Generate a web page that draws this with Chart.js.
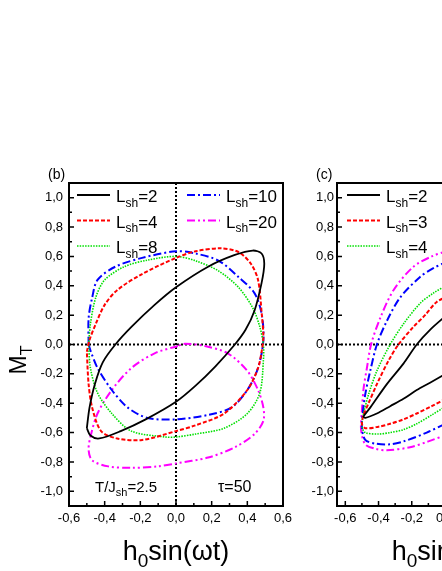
<!DOCTYPE html>
<html>
<head>
<meta charset="utf-8">
<script src="https://cdn.jsdelivr.net/npm/chart.js@4.4.0/dist/chart.umd.min.js"></script>
<style>
    html, body { margin: 0; padding: 0; overflow: hidden; background: #fff; }
    #wrap { position: relative; width: 442px; height: 571px; overflow: hidden; }
    canvas { position: absolute; top: 0; }
    #chart_b { left: 0; }
    #chart_c { left: 290px; }
</style>
</head>
<body>
<div id="wrap">
    <canvas id="chart_b" width="300" height="571"></canvas>
    <canvas id="chart_c" width="300" height="571"></canvas>
</div>
<script>
// оси
const xTicks = [-0.6, -0.4, -0.2, 0, 0.2, 0.4, 0.6];
const xMinor = [-0.5, -0.3, -0.1, 0.1, 0.3, 0.5];
const yTicks = [-1, -0.8, -0.6, -0.4, -0.2, 0, 0.2, 0.4, 0.6, 0.8, 1];
const yMinor = [-0.9, -0.7, -0.5, -0.3, -0.1, 0.1, 0.3, 0.5, 0.7, 0.9];

// панель (b), T/Jsh=2.5, tau=50 : петли [h, M]
const b_L2 = [[-0.50, -0.57], [-0.485, -0.43], [-0.455, -0.27], [-0.41, -0.12], [-0.34, 0.0], [-0.25, 0.12], [-0.12, 0.27], [0, 0.39], [0.18, 0.53], [0.33, 0.61], [0.43, 0.64], [0.48, 0.62], [0.495, 0.55], [0.48, 0.42], [0.44, 0.23], [0.39, 0.10], [0.33, 0.0], [0.22, -0.15], [0.11, -0.28], [0, -0.39], [-0.17, -0.51], [-0.31, -0.59], [-0.43, -0.64], [-0.48, -0.62], [-0.50, -0.57]];
const b_L4 = [[-0.50, -0.05], [-0.485, 0.03], [-0.45, 0.14], [-0.40, 0.27], [-0.33, 0.37], [-0.19, 0.48], [0, 0.59], [0.11, 0.635], [0.25, 0.655], [0.35, 0.63], [0.42, 0.55], [0.46, 0.44], [0.48, 0.22], [0.49, 0.05], [0.48, -0.05], [0.46, -0.16], [0.40, -0.31], [0.27, -0.47], [0.11, -0.55], [0, -0.59], [-0.19, -0.65], [-0.33, -0.64], [-0.42, -0.59], [-0.47, -0.43], [-0.49, -0.27], [-0.50, -0.05]];
const b_L8 = [[-0.49, 0.0], [-0.48, 0.14], [-0.45, 0.32], [-0.40, 0.44], [-0.29, 0.53], [-0.16, 0.575], [0, 0.60], [0.11, 0.57], [0.24, 0.50], [0.35, 0.39], [0.43, 0.25], [0.47, 0.12], [0.49, 0.0], [0.49, -0.11], [0.47, -0.33], [0.40, -0.47], [0.27, -0.57], [0.11, -0.61], [0, -0.63], [-0.06, -0.63], [-0.25, -0.59], [-0.36, -0.47], [-0.44, -0.33], [-0.48, -0.16], [-0.49, 0.0]];
const b_L10 = [[-0.49, 0.0], [-0.49, 0.18], [-0.47, 0.32], [-0.44, 0.44], [-0.34, 0.53], [-0.19, 0.59], [0, 0.635], [0.11, 0.62], [0.24, 0.57], [0.35, 0.46], [0.44, 0.35], [0.48, 0.21], [0.49, 0.03], [0.46, -0.16], [0.40, -0.31], [0.31, -0.43], [0.18, -0.48], [0, -0.51], [-0.16, -0.50], [-0.27, -0.43], [-0.36, -0.31], [-0.44, -0.16], [-0.48, -0.04], [-0.49, 0.0]];
const b_L20 = [[0.01, -0.01], [-0.12, -0.06], [-0.25, -0.16], [-0.36, -0.31], [-0.44, -0.47], [-0.48, -0.63], [-0.49, -0.72], [-0.47, -0.79], [-0.38, -0.83], [-0.25, -0.84], [-0.10, -0.83], [0.0, -0.81], [0.18, -0.77], [0.33, -0.70], [0.44, -0.61], [0.49, -0.52], [0.49, -0.43], [0.46, -0.31], [0.40, -0.18], [0.29, -0.06], [0.16, -0.01], [0.05, 0.005], [0.01, -0.01]];

// панель (c) : видна только левая часть петель
const c_L2 = [[0.02, 0.21], [-0.09, 0.10], [-0.17, 0.0], [-0.25, -0.13], [-0.35, -0.27], [-0.45, -0.43], [-0.49, -0.49], [-0.48, -0.50], [-0.41, -0.47], [-0.33, -0.42], [-0.25, -0.37], [-0.17, -0.31], [-0.09, -0.26], [0.02, -0.19]];
const c_L3 = [[0.02, 0.33], [-0.05, 0.29], [-0.12, 0.20], [-0.19, 0.12], [-0.28, 0.0], [-0.34, -0.11], [-0.41, -0.27], [-0.46, -0.40], [-0.49, -0.48], [-0.50, -0.54], [-0.48, -0.57], [-0.40, -0.56], [-0.33, -0.54], [-0.25, -0.51], [-0.17, -0.47], [-0.08, -0.42], [0.02, -0.36]];
const c_L4 = [[0.02, 0.41], [-0.07, 0.35], [-0.15, 0.28], [-0.25, 0.14], [-0.33, 0.0], [-0.41, -0.18], [-0.46, -0.34], [-0.49, -0.47], [-0.50, -0.56], [-0.48, -0.60], [-0.40, -0.61], [-0.33, -0.60], [-0.25, -0.58], [-0.17, -0.54], [-0.08, -0.48], [0.02, -0.41]];
const c_L6 = [[0.02, 0.57], [-0.07, 0.52], [-0.15, 0.46], [-0.27, 0.32], [-0.35, 0.16], [-0.41, 0.0], [-0.45, -0.18], [-0.48, -0.34], [-0.495, -0.47], [-0.50, -0.57], [-0.48, -0.65], [-0.42, -0.675], [-0.33, -0.68], [-0.25, -0.66], [-0.11, -0.60], [0.02, -0.53]];
const c_L8 = [[0.02, 0.64], [-0.08, 0.60], [-0.19, 0.53], [-0.31, 0.37], [-0.39, 0.18], [-0.445, 0.0], [-0.47, -0.16], [-0.49, -0.30], [-0.50, -0.45], [-0.505, -0.58], [-0.48, -0.68], [-0.42, -0.71], [-0.35, -0.72], [-0.21, -0.70], [-0.10, -0.66], [0.02, -0.61]];

// стили линий
const st_black = {color: "#000000", dash: [], width: 1.8};
const st_red = {color: "#ff0000", dash: [4, 2], width: 2};
const st_green = {color: "#00e000", dash: [1.5, 1.2], width: 1.6};
const st_blue = {color: "#0000ff", dash: [8, 3, 2, 3], width: 2};
const st_magenta = {color: "#ff00ff", dash: [8, 3, 2, 3, 2, 3], width: 2};

const FONT = "'Liberation Sans', Arial, sans-serif";

function fmt(v) {
    return v.toFixed(1).replace('.', ',');
}

// текст с подстрочными индексами: "L_{sh}=2"
function richText(ctx, str, x, y, size, align) {
    let parts = [];
    str.replace(/_\{([^}]*)\}|([^_]+)/g, function (m, sub, txt) {
        parts.push(sub !== undefined ? {t: sub, sub: true} : {t: txt, sub: false});
    });
    let subSize = Math.round(size * 0.7);
    let w = 0;
    parts.forEach(function (p) {
        ctx.font = (p.sub ? subSize : size) + "px " + FONT;
        p.w = ctx.measureText(p.t).width;
        w += p.w;
    });
    let cx = x;
    if (align === 'center') cx = x - w / 2;
    ctx.fillStyle = "#000";
    ctx.textBaseline = "alphabetic";
    ctx.textAlign = "left";
    parts.forEach(function (p) {
        ctx.font = (p.sub ? subSize : size) + "px " + FONT;
        ctx.fillText(p.t, cx, p.sub ? y + size * 0.27 : y);
        cx += p.w;
    });
}

const panelPlugin = {
    id: 'panel',
    beforeDatasetsDraw(chart) {
        const ctx = chart.ctx, a = chart.chartArea;
        const x0 = chart.scales.x.getPixelForValue(0);
        const y0 = chart.scales.y.getPixelForValue(0);
        ctx.save();
        ctx.strokeStyle = "#000";
        ctx.lineWidth = 2;
        ctx.setLineDash([2, 2]);
        ctx.beginPath();
        ctx.moveTo(x0, a.top);
        ctx.lineTo(x0, a.bottom);
        ctx.moveTo(a.left, y0);
        ctx.lineTo(a.right, y0);
        ctx.stroke();
        ctx.restore();
    },
    afterDraw(chart, args, o) {
        const ctx = chart.ctx, a = chart.chartArea;
        const sx = chart.scales.x, sy = chart.scales.y;
        ctx.save();
        // рамка
        ctx.strokeStyle = "#000";
        ctx.lineWidth = 2;
        ctx.setLineDash([]);
        ctx.strokeRect(a.left, a.top, a.right - a.left, a.bottom - a.top);
        // засечки внутрь
        ctx.lineWidth = 1.5;
        ctx.beginPath();
        xTicks.concat(xMinor).forEach(function (v) {
            let p = sx.getPixelForValue(v);
            if (p < a.left || p > a.right) return;
            let len = xTicks.includes(v) ? 5 : 3;
            ctx.moveTo(p, a.bottom);
            ctx.lineTo(p, a.bottom - len);
        });
        yTicks.concat(yMinor).forEach(function (v) {
            let p = sy.getPixelForValue(v);
            let len = yTicks.includes(v) ? 5 : 3;
            ctx.moveTo(a.left, p);
            ctx.lineTo(a.left + len, p);
        });
        ctx.stroke();

        // легенда
        chart.data.datasets.forEach(function (ds, i) {
            let col = i < 3 ? 0 : 1;
            let row = i < 3 ? i : i - 3;
            let lx = a.left + o.legendX + col * 110;
            let ly = a.top + 12 + row * 25.5;
            ctx.strokeStyle = ds.borderColor;
            ctx.lineWidth = ds.borderWidth;
            ctx.setLineDash(ds.borderDash);
            ctx.beginPath();
            ctx.moveTo(lx, ly);
            ctx.lineTo(lx + 33, ly);
            ctx.stroke();
            ctx.setLineDash([]);
            richText(ctx, ds.label, lx + 39, ly + 7, 17, 'left');
        });

        // подписи
        richText(ctx, o.tag, a.left - 21, a.top - 4, 14, 'left');
        richText(ctx, "h_{0}sin(\u03c9t)", (a.left + a.right) / 2, 560, 27, 'center');
        if (o.yTitle) {
            ctx.save();
            ctx.translate(26, 360);
            ctx.rotate(-Math.PI / 2);
            richText(ctx, "M_{T}", 0, 0, 23, 'center');
            ctx.restore();
        }
        (o.notes || []).forEach(function (n) {
            richText(ctx, n.text, a.left + n.dx, a.bottom - 14, n.size, 'left');
        });
        ctx.restore();
    }
};

function makePanel(id, series, o) {
    const el = document.getElementById(id);
    new Chart(el, {
        type: 'scatter',
        data: {
            datasets: series.map(function (s) {
                return {
                    label: s.label,
                    data: s.points.map(function (p) { return {x: p[0], y: p[1]}; }),
                    showLine: true,
                    borderColor: s.style.color,
                    borderDash: s.style.dash,
                    borderWidth: s.style.width,
                    borderJoinStyle: 'round',
                    pointRadius: 0,
                    pointHoverRadius: 0,
                    tension: 0.3,
                    fill: false
                };
            })
        },
        options: {
            responsive: false,
            animation: false,
            events: [],
            layout: {padding: {top: 183, right: o.padRight, left: 0, bottom: 0}},
            plugins: {
                legend: {display: false},
                tooltip: {enabled: false},
                panel: o
            },
            scales: {
                x: {
                    type: 'linear',
                    min: o.xMin,
                    max: o.xMax,
                    afterFit: function (s) { s.height = 65; },
                    afterBuildTicks: function (s) { s.ticks = xTicks.map(function (v) { return {value: v}; }); },
                    grid: {display: false, drawTicks: false},
                    border: {display: false},
                    ticks: {
                        padding: 5,
                        color: "#000",
                        font: {family: FONT, size: 13},
                        maxRotation: 0,
                        callback: function (v) { return fmt(v); }
                    }
                },
                y: {
                    type: 'linear',
                    min: -1.1,
                    max: 1.1,
                    afterFit: function (s) { s.width = o.yWidth; },
                    afterBuildTicks: function (s) { s.ticks = yTicks.map(function (v) { return {value: v}; }); },
                    grid: {display: false, drawTicks: false},
                    border: {display: false},
                    ticks: {
                        padding: o.yPad,
                        color: "#000",
                        font: {family: FONT, size: 13},
                        callback: function (v) { return fmt(v); }
                    }
                }
            }
        },
        plugins: [panelPlugin]
    });
}

makePanel("chart_b", [
    {label: "L_{sh}=2", points: b_L2, style: st_black},
    {label: "L_{sh}=4", points: b_L4, style: st_red},
    {label: "L_{sh}=8", points: b_L8, style: st_green},
    {label: "L_{sh}=10", points: b_L10, style: st_blue},
    {label: "L_{sh}=20", points: b_L20, style: st_magenta}
], {
    xMin: -0.6, xMax: 0.6, padRight: 17, yWidth: 69, yPad: 6, legendX: 8,
    tag: "(b)", yTitle: true,
    notes: [{text: "T/J_{sh}=2.5", dx: 26, size: 15}, {text: "\u03c4=50", dx: 149, size: 16}]
});

makePanel("chart_c", [
    {label: "L_{sh}=2", points: c_L2, style: st_black},
    {label: "L_{sh}=3", points: c_L3, style: st_red},
    {label: "L_{sh}=4", points: c_L4, style: st_green},
    {label: "L_{sh}=6", points: c_L6, style: st_blue},
    {label: "L_{sh}=8", points: c_L8, style: st_magenta}
], {
    xMin: -0.65, xMax: 0.65, padRight: 37, yWidth: 47, yPad: 3, legendX: 10,
    tag: "(c)", yTitle: false, notes: []
});
</script>
</body>
</html>
